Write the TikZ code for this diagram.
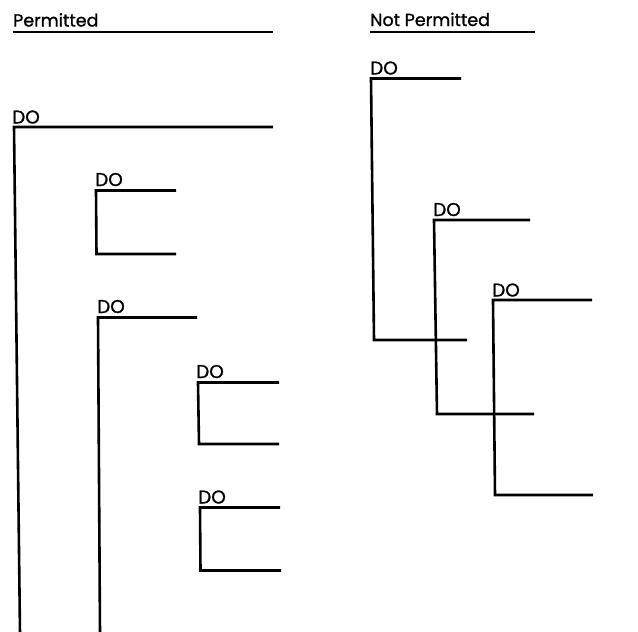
\documentclass[tikz,border=0pt]{standalone}
\usepackage{fontspec}
\setmainfont{Poppins}
\newfontfamily\dofont{Poppins}[FakeBold=1.2]
\begin{document}
\begin{tikzpicture}[x=1pt,y=-1pt,
  lbl/.style={anchor=base west,inner sep=0pt,font=\dofont\fontsize{17.5}{20}\selectfont},
  dolbl/.style={lbl,font=\dofont\fontsize{18.5}{20}\selectfont},
  bar/.style={line width=2.6pt,line join=miter,line cap=butt}]
\useasboundingbox (0,0) rectangle (638,632);
% headings
\node[lbl] (perm) at (13,26.5) {Permitted};
\node[lbl] (notperm) at (370,26) {Not Permitted};
\draw[bar] (13,32) -- (273,32);
\draw[bar] (370,32) -- (535,32);
% Permitted
\node[dolbl] (dA) at (12,123.5) {DO};
\draw[bar] (273,127) -- (14,127) -- (20,634);
\node[dolbl] (dB) at (95,186) {DO};
\draw[bar] (176,190.5) -- (96,190.5) -- (96.5,254) -- (176,254);
\node[dolbl] (dC) at (97,313) {DO};
\draw[bar] (197,317.5) -- (98,317.5) -- (100,634);
\node[dolbl] (dD) at (196,378) {DO};
\draw[bar] (279,382.5) -- (198,382.5) -- (199,444) -- (279,444);
\node[dolbl] (dE) at (198,503.5) {DO};
\draw[bar] (280,507.5) -- (200,507.5) -- (200.5,570.5) -- (281,570.5);
% Not permitted
\node[dolbl] (dF) at (370,74.5) {DO};
\draw[bar] (461,78.5) -- (371,78.5) -- (374,340) -- (467,340);
\node[dolbl] (dG) at (433,216) {DO};
\draw[bar] (530,220) -- (434,220) -- (437,414) -- (534,414);
\node[dolbl] (dH) at (492,296.5) {DO};
\draw[bar] (592,300) -- (493,300) -- (495,495) -- (593,495);
\end{tikzpicture}
\end{document}
